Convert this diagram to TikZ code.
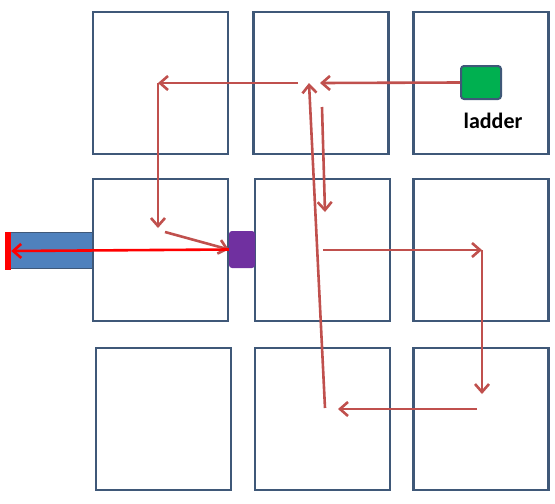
\documentclass[tikz,border=0pt]{standalone}
\usepackage{fontspec}
\setmainfont{Carlito}
\usepackage{xcolor}
\usetikzlibrary{arrows.meta,positioning}

\definecolor{wall}{HTML}{3F5878}
\definecolor{route}{HTML}{C0504D}
\definecolor{hallblue}{HTML}{4F81BD}
\definecolor{doorpurple}{HTML}{7030A0}
\definecolor{laddergreen}{HTML}{00B050}

\begin{document}
\begin{tikzpicture}[x=1pt,y=-1pt,
  room/.style={draw=wall,line width=2.6pt,minimum width=135pt,minimum height=142pt,inner sep=0pt},
  go/.style={draw=route,line width=2.6pt,-{Straight Barb[length=8pt,width=14pt,line width=2.6pt]}},
  door/.style={rounded corners=3pt,inner sep=0pt}]
 \useasboundingbox (0,0) rectangle (555,504);
 % rooms
 \node[room] (r11) at (160.5,83) {};
 \node[room] (r12) at (321,83) {};
 \node[room] (r13) at (481,83) {};
 \node[room] (r21) at (160.5,250) {};
 \node[room] (r22) at (322.5,250) {};
 \node[room] (r23) at (481,250) {};
 \node[room] (r31) at (163.5,419) {};
 \node[room] (r32) at (322.5,419) {};
 \node[room] (r33) at (481,419) {};
 % exit corridor, door and ladder
 \node[fill=hallblue,draw=wall,line width=0.8pt,minimum width=84pt,minimum height=36pt,inner sep=0pt] (hall) at (50,250) {};
 \node[fill=red,minimum width=6pt,minimum height=38pt,inner sep=0pt] (out) at (8,251) {};
 \node[door,fill=doorpurple,minimum width=26pt,minimum height=37pt] (dr) at (242,249.5) {};
 \node[door,draw=wall,line width=2pt,fill=laddergreen,minimum width=40pt,minimum height=33pt] (lad) at (481,82.5) {};
 \node[font=\bfseries\fontsize{22}{22}\selectfont] (lt) at (493,121) {ladder};
 % turning points
 \coordinate (a) at (320,83);
 \coordinate (b) at (298,83);
 \coordinate (c) at (158,83);
 \coordinate (d) at (158,228);
 \coordinate (e) at (165,232);
 \coordinate (f) at (322,107);
 \coordinate (g) at (325,212);
 \coordinate (h) at (323,250);
 \coordinate (i) at (482,250);
 \coordinate (j) at (482,394);
 \coordinate (k) at (477,409);
 \coordinate (l) at (338,409);
 \coordinate (m) at (325,408);
 \coordinate (n) at (309,83);
 \foreach \a/\b in {lad.west/a,b/c,c/d,e/dr.west,f/g,h/i,i/j,k/l,m/n}
   \draw[go] (\a)--(\b);
 \draw[red,line width=2.6pt,-{Straight Barb[length=8pt,width=14pt,line width=2.6pt]}] (dr.west)--(out.east);
\end{tikzpicture}
\end{document}
